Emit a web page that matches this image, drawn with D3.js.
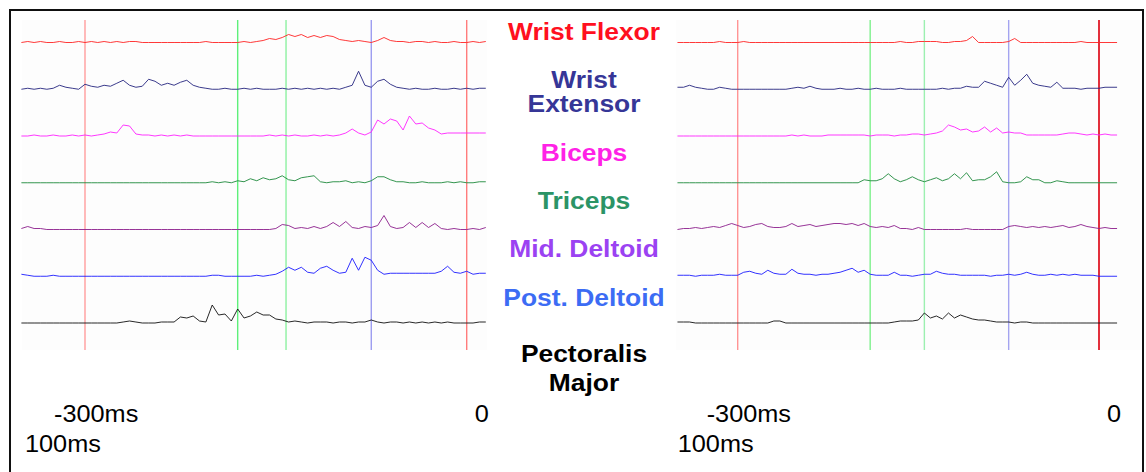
<!DOCTYPE html>
<html>
<head>
<meta charset="utf-8">
<style>
  body { margin: 0; background: #fff; }
  text { font-family: "Liberation Sans", Arial, sans-serif; }
</style>
</head>
<body>
<script src="https://cdn.jsdelivr.net/npm/d3@7/dist/d3.min.js"></script>
<script>

// *** DATA ***

// sample times (ms), one sample every 5 ms
var times = d3.range(-350, 16, 5);

var muscles = ["Wrist Flexor", "Wrist Extensor", "Biceps", "Triceps", "Mid. Deltoid", "Post. Deltoid", "Pectoralis Major"];
var labelLines = [["Wrist Flexor"], ["Wrist", "Extensor"], ["Biceps"], ["Triceps"], ["Mid. Deltoid"], ["Post. Deltoid"], ["Pectoralis", "Major"]];
var labelColors = ["#ff1020", "#363697", "#ff22e6", "#2b9466", "#9b42f2", "#3c6cf4", "#000000"];
var traceColors = ["#ff2424", "#262680", "#ff22ff", "#1e8a3c", "#8c1e8c", "#1c1cff", "#111111"];

// event markers (ms)
var eventsLeft = [-300, -180, -142, -75, 0];
var eventsRight = [-300, -190, -145, -75, 0];
var eventColorsLeft = ["#ff9c9c", "#5ef07a", "#8cf0a0", "#9c9cf0", "#ff7c7c"];
var eventColorsRight = ["#ff9494", "#7ef08c", "#9cf0b0", "#a4a4f0", "#e2303c"];

var tickStart = "-300ms", tickEnd = "0", scaleLabel = "100ms";

// EMG amplitudes, left trial (px-like units above baseline)
var flexorL = [0,1,0,1,0,0,1,0,0,1, 0,1,0,1,0,1,0,1,1,0, 0,0,0,0,0,0,0,0,0,1, 0,0,0,0,0,1,0,1,2,4,
               3,5,8,6,8,5,7,5,7,6, 3,2,1,2,1,0,2,5,2,1, 1,0,1,1,0,1,0,0,1,0, 0,1,0,1];
var extensorL = [0,1,0,1,0,1,4,2,1,0, 5,3,2,4,3,6,9,4,2,3, 10,8,4,6,4,7,9,4,2,1, 0,0,1,0,0,1,0,1,0,0,
                 0,1,0,1,0,1,0,1,0,1, 0,2,4,18,4,2,8,10,5,2, 1,0,1,0,0,1,0,0,1,0, 1,0,1,1];
var bicepsL = [0,0,1,0,0,1,0,0,1,0, 1,0,1,2,4,3,11,10,2,1, 1,0,1,0,1,0,1,0,0,0, 0,0,0,0,0,0,0,0,0,1,
               0,1,0,1,0,0,1,0,1,0, 1,3,7,3,1,4,16,12,17,15, 6,20,12,13,8,6,2,3,3,3, 3,3,3,3];
var tricepsL = [0,0,0,0,0,0,0,0,0,0, 0,0,0,0,0,0,0,0,0,0, 0,0,0,0,0,0,0,0,0,0, 1,0,1,0,2,1,4,2,5,3,
                4,7,3,2,5,6,7,1,0,1, 1,2,0,1,0,2,6,6,3,1, 1,0,0,1,0,0,0,1,0,1, 0,0,1,1];
var midDeltL = [1,3,1,1,0,0,0,0,0,0, 0,0,0,0,0,0,0,0,0,0, 0,0,0,0,0,0,0,0,0,0, 0,0,0,0,0,0,0,0,0,0,
                1,5,4,1,2,1,3,1,3,7, 3,8,2,1,3,2,4,14,3,1, 2,7,2,7,2,6,1,0,1,0, 0,1,0,2];
var postDeltL = [2,1,0,0,0,1,0,0,0,0, 0,0,0,0,0,0,0,0,0,0, 0,0,0,0,0,0,0,0,0,0, 1,1,0,0,0,0,0,1,0,1,
                 2,5,9,6,9,4,3,8,10,6, 3,4,18,6,19,16,6,2,3,3, 3,3,3,3,3,3,5,10,4,3, 5,2,3,3];
var pectL = [0,0,0,0,0,0,0,0,0,0, 0,0,0,0,0,0,1,2,1,0, 0,0,1,1,1,6,5,7,2,1, 18,8,9,2,14,5,7,11,8,8,
             4,3,1,2,1,0,1,1,1,0, 1,1,0,1,1,3,1,0,1,1, 0,1,0,1,0,1,0,1,0,0, 0,0,1,1];

// EMG amplitudes, right trial
var flexorR = [0,0,0,0,0,0,0,1,0,0, 0,1,0,0,0,0,0,0,0,0, 0,0,0,0,0,0,0,0,0,0, 0,0,0,0,0,0,0,1,0,0,
               1,1,1,1,0,0,1,1,2,6, 0,0,0,0,0,1,4,0,0,0, 0,0,0,0,0,0,0,1,0,0, 0,0,0,0];
var extensorR = [2,2,4,2,1,0,0,2,1,0, 0,0,0,0,0,0,0,0,0,1, 2,1,3,1,0,0,0,1,0,0, 1,0,0,1,0,0,0,1,0,0,
                 0,0,0,0,1,0,1,1,3,2, 2,8,6,4,2,12,4,9,15,6, 4,3,2,7,1,1,1,0,1,1, 1,2,2,2];
var bicepsR = [0,0,0,0,0,0,0,0,0,0, 0,0,0,0,0,0,0,0,0,1, 0,1,0,0,0,1,1,1,1,1, 1,1,0,1,1,1,0,1,1,2,
               2,1,2,3,5,11,9,6,7,4, 5,9,4,8,3,4,3,3,1,1, 1,1,1,1,2,3,3,2,1,2, 1,2,1,1];
var tricepsR = [0,0,0,0,0,0,0,0,0,0, 0,0,0,0,0,0,0,0,0,0, 0,0,0,0,0,0,0,0,0,0, 0,3,2,2,4,9,4,1,3,6,
                3,1,3,5,2,4,9,4,10,2, 3,3,6,11,1,0,0,1,6,3, 3,0,0,2,1,0,0,0,0,0, 0,0,0,0];
var midDeltR = [0,1,1,2,1,2,3,2,4,6, 4,2,3,5,6,3,2,2,3,6, 3,4,5,3,4,5,6,6,5,6, 4,6,3,2,3,2,4,1,1,0,
                2,0,0,0,0,0,0,0,1,0, 0,0,0,0,0,3,4,3,2,3, 2,3,2,3,4,2,3,5,3,2, 1,2,1,1];
var postDeltR = [1,1,1,0,1,1,1,2,1,1, 1,4,5,3,2,6,3,2,2,7, 3,2,2,1,2,2,3,4,6,8, 4,6,2,1,1,1,4,1,1,0,
                 1,2,2,5,3,2,2,1,1,1, 1,1,0,1,1,2,1,2,4,2, 1,1,2,1,2,1,2,1,1,1, 0,0,0,0];
var pectR = [1,1,1,0,0,0,0,0,0,0, 0,0,0,0,0,0,2,2,0,0, 0,0,0,0,0,0,0,0,0,0, 0,0,0,0,0,0,1,2,2,2,
             3,10,5,7,4,10,5,8,6,4, 3,3,2,1,1,1,0,1,1,0, 0,0,0,0,0,0,0,0,0,0, 0,0,0,0];

var seriesLeft = [flexorL, extensorL, bicepsL, tricepsL, midDeltL, postDeltL, pectL];
var seriesRight = [flexorR, extensorR, bicepsR, tricepsR, midDeltR, postDeltR, pectR];

// *** LAYOUT ***

var W = 1146, H = 472;
var svg = d3.select("body").append("svg")
	.attr("width", W)
	.attr("height", H);

svg.append("rect").attr("width", W).attr("height", H).style("fill", "#fff");

// outer frame (bottom edge runs off the picture)
svg.append("rect")
	.attr("x", 10).attr("y", 10)
	.attr("width", 1133).attr("height", 480)
	.style("fill", "none")
	.style("stroke", "#111")
	.style("stroke-width", 2);

var rowY = d3.scaleLinear().domain([0, 6]).range([42.5, 323]);
var amp = d3.scaleLinear().domain([0, 10]).range([0, -10]);

var panels = [
	{ x: d3.scaleLinear().domain([-300, 0]).range([85, 466.7]), bg: [22, 487], series: seriesLeft, events: eventsLeft, evColors: eventColorsLeft },
	{ x: d3.scaleLinear().domain([-300, 0]).range([737.7, 1099]), bg: [676, 1142], series: seriesRight, events: eventsRight, evColors: eventColorsRight }
];

function stretchedText(g, x, y, str, size, weight, color, anchor) {
	g.append("text")
		.attr("transform", "translate(" + x + "," + y + ") scale(1.1,1)")
		.attr("text-anchor", anchor)
		.style("font-size", size + "px")
		.style("font-weight", weight)
		.style("fill", color)
		.text(str);
}

panels.forEach(function(p, pi) {
	var g = svg.append("g");

	// faint panel background
	g.append("rect")
		.attr("x", p.bg[0]).attr("y", 20)
		.attr("width", p.bg[1] - p.bg[0]).attr("height", 330)
		.style("fill", "#fdfdfd");

	// event markers
	g.selectAll("line.ev").data(p.events)
		.enter().append("line")
		.attr("x1", function(d) { return p.x(d); })
		.attr("x2", function(d) { return p.x(d); })
		.attr("y1", 20).attr("y2", 350)
		.style("stroke", function(d, i) { return p.evColors[i]; })
		.style("stroke-width", function(d, i) { return (pi == 1 && i == 4) ? 2 : 1.4; });

	// traces
	p.series.forEach(function(vals, r) {
		var line = d3.line()
			.x(function(d, i) { return p.x(times[i]); })
			.y(function(d) { return rowY(r) + amp(d); });
		g.append("path")
			.datum(vals)
			.attr("d", line)
			.style("fill", "none")
			.style("stroke", traceColors[r])
			.style("stroke-width", 1)
			.style("stroke-linejoin", "round")
			.style("opacity", 0.9);
	});

	// time labels
	var x0 = p.x(-300), x1 = p.x(0);
	stretchedText(svg, x0 - 31, 421.5, tickStart, 23, "normal", "#000", "start");
	stretchedText(svg, x1 + 8, 421.5, tickEnd, 23, "normal", "#000", "start");
	stretchedText(svg, x0 - 60, 451.5, scaleLabel, 23, "normal", "#000", "start");
});

// muscle names between the panels
var labelY = [40, 88, 161, 209, 257, 306, 362];
var labelGap = [0, 24, 0, 0, 0, 0, 29];
labelLines.forEach(function(lines, i) {
	lines.forEach(function(s, k) {
		stretchedText(svg, 584, labelY[i] + k * labelGap[i], s, 24, "bold", labelColors[i], "middle");
	});
});

</script>
</body>
</html>
